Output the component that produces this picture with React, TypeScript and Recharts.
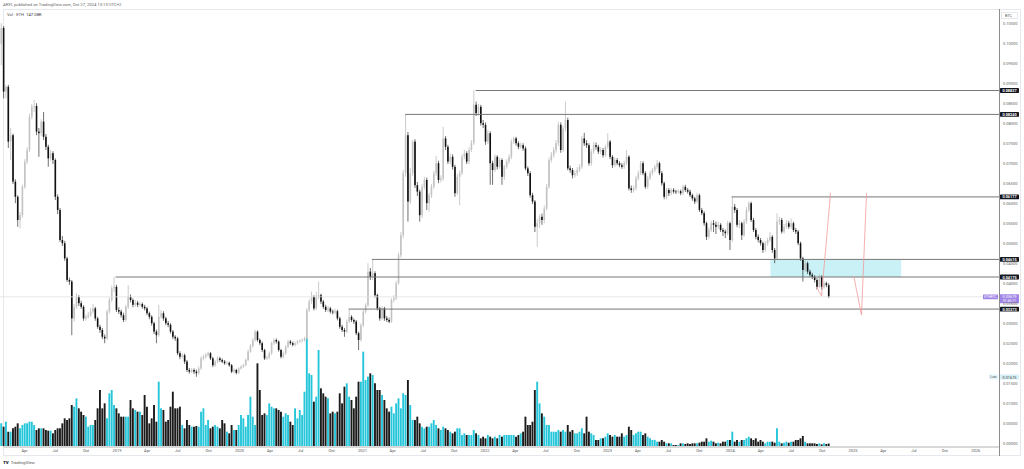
import React from 'react';
import { ComposedChart, Bar, XAxis, YAxis, ReferenceLine, ReferenceArea, Cell } from 'recharts';

const W = 1024;
const H = 469;
const DAY = 86400000;

// weekly candles, prices in units of 0.0001 BTC
const FIRST_WEEK = '2018-01-22';
const firstOpen = 1000;
const closes = [
  1040,881,893,756,772,656,618,560,572,643,
  706,735,818,843,845,781,777,806,768,743,
  714,727,710,618,585,510,502,464,410,406,
  314,343,368,352,343,314,318,322,331,339,
  314,293,285,268,264,331,360,389,393,335,
  331,322,310,343,368,360,348,353,348,350,
  343,339,327,318,302,281,272,318,327,314,
  302,298,281,268,264,227,218,222,206,185,
  181,185,181,177,189,214,218,222,227,214,
  197,206,214,210,206,202,203,197,181,185,
  178,189,193,197,210,231,
  245,260,281,260,252,235,214,216,227,252,
  260,256,235,218,227,243,256,252,248,252,
  256,258,260,264,335,356,368,339,368,372,
  356,343,335,339,331,329,332,314,293,285,
  281,306,318,310,306,277,260,297,331,347,
  431,418,427,372,339,314,339,314,310,306,
  360,364,402,472,522,677,772,606,677,756,
  647,631,572,643,660,602,622,643,677,702,
  660,664,764,743,706,718,693,627,668,677,
  718,727,706,735,752,848,827,843,802,798,
  756,777,
  702,685,718,693,710,668,693,706,718,756,
  764,752,743,747,739,689,677,622,606,543,
  552,568,560,589,643,710,722,735,752,798,
  735,789,810,689,685,672,677,685,693,764,
  752,747,702,731,747,743,731,735,722,743,
  756,718,697,710,702,697,693,702,718,639,
  635,639,664,677,702,677,643,664,677,685,
  693,702,677,652,618,635,627,635,631,630,
  632,627,643,635,631,622,614,606,622,585,
  577,552,518,535,552,548,543,548,535,531,
  527,552,
  510,593,585,548,552,522,556,585,602,560,
  535,518,510,502,485,502,510,518,485,464,
  556,560,531,543,552,543,552,535,531,502,
  464,435,452,431,423,418,410,393,418,393,
  402,397,368,
];
const highs = [
  1052,1045,897,898,790,776,662,622,580,648,
  712,742,826,850,860,852,790,812,830,775,
  748,735,732,714,624,590,520,508,468,416,
  410,350,377,372,358,347,324,330,340,350,
  343,318,298,290,274,336,366,396,418,398,
  342,336,328,348,397,374,364,360,358,356,
  354,348,343,331,322,306,286,348,335,332,
  318,308,302,285,272,268,232,228,226,210,
  190,190,189,186,194,219,224,228,231,230,
  218,210,219,218,214,210,207,206,200,189,
  188,192,197,201,214,236,
  250,265,285,284,264,256,238,221,231,256,
  264,264,259,238,231,247,260,260,256,256,
  260,262,264,268,340,362,381,372,381,406,
  376,360,348,345,343,336,338,336,318,298,
  290,311,338,322,314,310,281,302,336,352,
  452,440,462,432,376,343,345,343,320,316,
  364,372,408,478,530,685,824,780,690,760,
  762,655,636,650,668,666,628,650,683,720,
  708,672,793,770,748,726,724,698,675,684,
  724,736,732,742,760,884,856,850,848,810,
  804,785,
  782,708,724,722,716,714,698,712,724,762,
  768,768,757,753,752,744,694,682,628,610,
  562,574,576,596,650,716,730,742,760,806,
  804,796,856,816,696,690,684,692,700,770,
  778,760,752,738,755,754,748,742,740,748,
  777,760,722,716,715,707,702,708,735,722,
  646,646,670,683,708,707,682,670,682,690,
  698,710,706,682,656,640,640,640,640,636,
  637,636,648,648,640,636,626,618,628,626,
  590,582,556,542,558,560,556,556,552,540,
  536,558,
  556,618,600,590,560,556,562,592,606,606,
  565,540,524,515,506,508,516,530,522,490,
  577,568,565,550,560,558,564,556,540,535,
  506,468,458,456,436,428,422,415,424,422,
  408,406,402,
];
const lows = [
  947,864,864,740,710,650,602,543,539,566,
  638,700,730,812,830,772,718,770,760,735,
  693,708,700,610,575,505,495,458,405,398,
  272,306,338,345,338,308,308,314,318,326,
  308,288,278,262,252,260,326,355,380,330,
  325,316,305,306,338,354,342,343,342,343,
  338,334,322,312,296,275,252,268,312,308,
  297,292,276,262,258,222,212,214,200,180,
  176,177,175,168,173,185,209,213,218,210,
  192,193,202,205,202,198,198,193,177,177,
  174,175,186,190,194,207,
  228,241,256,256,247,230,210,210,212,223,
  248,251,231,214,214,223,239,248,244,244,
  248,252,254,256,260,330,350,334,335,362,
  350,338,330,330,326,324,324,309,288,280,
  268,277,302,305,300,272,235,256,292,326,
  343,410,410,366,334,308,310,308,305,302,
  303,354,360,398,466,515,668,556,600,670,
  640,620,556,565,636,585,581,615,638,670,
  652,654,658,735,700,700,686,618,622,597,
  672,712,700,700,730,748,820,820,796,790,
  748,750,
  648,648,680,686,688,648,660,688,700,712,
  750,746,737,738,733,684,670,616,600,530,
  493,540,548,552,584,638,704,716,728,745,
  728,730,782,684,678,664,666,670,680,688,
  745,740,696,696,725,736,725,724,716,718,
  738,712,690,692,697,692,688,688,697,634,
  628,628,634,659,672,672,638,638,660,672,
  680,688,672,646,612,612,620,622,626,625,
  626,622,622,630,626,617,608,600,602,580,
  572,546,510,512,530,530,525,538,530,520,
  515,522,
  485,505,578,542,540,510,518,550,580,555,
  530,512,504,496,478,480,496,505,478,452,
  460,548,526,526,538,538,538,530,525,497,
  458,406,430,425,418,412,404,386,390,386,
  388,392,365,
];
// weekly volume, thousand ETH
const volumes = [
  1360,1160,1460,860,860,1060,1160,1360,1060,1260,
  1360,1360,1460,1460,1260,960,1060,1060,1060,960,
  920,920,760,960,1060,1060,1360,1660,1560,1660,
  2460,2360,2860,2260,2060,1860,1760,1160,1260,1260,
  1560,2260,3360,2260,2560,1660,3160,3360,2460,2260,
  1960,1760,1760,1760,1760,2760,2260,2160,2060,2060,
  1860,3060,2360,1360,1660,2460,1460,3860,2260,2160,
  1460,1560,2360,3260,2260,2260,2360,1260,1060,1560,
  1260,1160,1160,1200,1160,2060,2260,1260,1560,1060,
  1160,1260,1160,1060,1560,1360,860,760,1260,960,
  960,1260,1860,1660,1160,1860,
  2960,1760,1260,4960,3360,1860,1960,1860,2560,2360,
  2260,2260,2160,2060,1760,1960,1860,1460,1260,2260,
  1660,2160,1860,3260,6460,4360,4260,2660,2960,5760,
  3460,3160,2960,2860,1960,2060,1960,2060,3160,2560,
  3560,3760,2960,2760,2260,2960,3860,3860,5660,3960,
  4160,4360,4260,3760,3360,3360,3060,2760,2260,2060,
  2360,1960,2560,2860,2260,3160,3060,3960,2460,1560,
  1560,1760,1360,1160,1060,1160,1160,1360,1560,1260,
  1060,960,1160,1060,960,860,760,860,1060,1060,
  660,760,660,660,660,960,760,660,460,560,
  460,660,
  560,460,560,460,660,560,660,660,660,660,
  660,560,660,760,860,1760,1260,1260,1460,3360,
  3860,2560,1960,1760,1260,1260,860,860,860,960,
  860,960,860,1260,860,960,760,760,860,1060,
  760,1760,860,760,660,360,360,460,460,560,
  760,660,560,660,560,560,760,560,660,1160,
  960,660,760,860,860,660,760,560,460,360,
  360,260,260,360,260,160,160,160,60,60,
  60,160,160,120,160,120,160,160,160,200,
  260,260,460,260,320,260,160,200,160,260,
  260,360,
  360,860,260,360,260,360,360,460,560,460,
  360,460,260,360,260,160,260,260,260,200,
  1060,260,160,200,260,200,260,260,360,360,
  460,600,260,160,160,160,160,120,160,100,
  160,120,147.08,
];

const priceTicks = [
  0, 0.005, 0.01, 0.015, 0.02, 0.025, 0.03, 0.035, 0.04, 0.045, 0.05,
  0.055, 0.06, 0.065, 0.07, 0.075, 0.08, 0.085, 0.09, 0.095, 0.1, 0.105,
];
const timeTicks = [
  '2018-04-01', '2018-07-01', '2018-10-01', '2019-01-01', '2019-04-01', '2019-07-01', '2019-10-01',
  '2020-01-01', '2020-04-01', '2020-07-01', '2020-10-01', '2021-01-01', '2021-04-01', '2021-07-01',
  '2021-10-01', '2022-01-01', '2022-04-01', '2022-07-01', '2022-10-01', '2023-01-01', '2023-04-01',
  '2023-07-01', '2023-10-01', '2024-01-01', '2024-04-01', '2024-07-01', '2024-10-01', '2025-01-01',
  '2025-04-01', '2025-07-01', '2025-10-01', '2026-01-01',
];
const MONTHS = ['Jan', 'Feb', 'Mar', 'Apr', 'May', 'Jun', 'Jul', 'Aug', 'Sep', 'Oct', 'Nov', 'Dec'];

// drawings
const levels = [
  { price: 0.08837, from: '2021-12-04' },
  { price: 0.0824, from: '2021-05-08' },
  { price: 0.06177, from: '2024-01-05' },
  { price: 0.04615, from: '2021-01-29' },
  { price: 0.04175, from: '2018-12-28' },
  { price: 0.03373, from: '2020-11-21' },
];
const zone = { from: '2024-04-30', to: '2025-05-24', top: 0.04615, bottom: 0.04175 };
const pathA = [
  { d: '2024-09-14', p: 0.0393 },
  { d: '2024-09-29', p: 0.037 },
  { d: '2024-10-26', p: 0.0628 },
];
const pathB = [
  { d: '2025-01-03', p: 0.042 },
  { d: '2025-01-26', p: 0.03225 },
  { d: '2025-02-10', p: 0.0627 },
];
const lastPrice = 0.03679;
const lowPrice = 0.01675;

const X0 = Date.parse('2018-01-17T17:00:00Z');
const X1 = Date.parse('2026-03-11T12:00:00Z');
const t0 = Date.parse(FIRST_WEEK + 'T00:00:00Z');

const rows = closes.map((c, i) => {
  const o = i === 0 ? firstOpen : closes[i - 1];
  return {
    t: t0 + i * 7 * DAY,
    o: o / 1e4,
    c: c / 1e4,
    h: highs[i] / 1e4,
    l: lows[i] / 1e4,
    range: [lows[i] / 1e4, highs[i] / 1e4],
    v: volumes[i],
    up: c >= o,
  };
});

const UP_BODY = '#c3c3c3';
const UP_WICK = '#a8a8a8';
const DOWN = '#111111';
const VOL_UP = '#26C6DA';
const VOL_DOWN = '#1b1b1b';
const LINE = '#777777';
const RED = '#f29a9a';

const Candle = (props: any) => {
  const { x, y, width, height, payload } = props;
  if (!payload || x == null) return null;
  const { o, c, h, l } = payload;
  const top = Math.min(y, y + height);
  const bot = Math.max(y, y + height);
  const span = h - l;
  const k = span > 0 ? (bot - top) / span : 0;
  const cx = x + width / 2;
  const yOf = (v: number) => top + (h - v) * k;
  const up = c >= o;
  const bTop = yOf(Math.max(o, c));
  const bBot = yOf(Math.min(o, c));
  return (
    <g>
      <line x1={cx} x2={cx} y1={top} y2={bot} stroke={up ? UP_WICK : DOWN} strokeWidth={0.6} />
      <rect x={cx - 0.8} y={bTop} width={1.6} height={Math.max(0.6, bBot - bTop)} fill={up ? UP_BODY : DOWN} />
    </g>
  );
};

const PriceTag = (props: any) => {
  const vb = props.viewBox || {};
  const xr = (vb.x || 0) + (vb.width || 0);
  const y = vb.y || 0;
  return (
    <g>
      <rect x={xr + 1} y={y - 2.4} width={19} height={4.8} rx={0.6} fill="#131722" />
      <text x={xr + 10.5} y={y} textAnchor="middle" dominantBaseline="central" fontSize={3.8} fontWeight={700} fill="#ffffff">
        {props.text}
      </text>
    </g>
  );
};

const LastTag = (props: any) => {
  const vb = props.viewBox || {};
  const xr = (vb.x || 0) + (vb.width || 0);
  const y = vb.y || 0;
  return (
    <g>
      <rect x={xr - 16} y={y - 2.4} width={15} height={4.8} rx={0.6} fill="#a083e6" />
      <text x={xr - 8.5} y={y} textAnchor="middle" dominantBaseline="central" fontSize={3.4} fill="#ffffff">ETHBTC</text>
      <rect x={xr + 1} y={y - 2.6} width={19} height={9} rx={0.6} fill="#a083e6" />
      <text x={xr + 10.5} y={y} textAnchor="middle" dominantBaseline="central" fontSize={3.8} fill="#ffffff">{props.text}</text>
      <text x={xr + 10.5} y={y + 3.8} textAnchor="middle" dominantBaseline="central" fontSize={3.4} fill="#ffffff">01:46:11</text>
    </g>
  );
};

const LowTag = (props: any) => {
  const vb = props.viewBox || {};
  const xr = (vb.x || 0) + (vb.width || 0);
  const y = vb.y || 0;
  return (
    <g>
      <rect x={xr - 10} y={y - 2.4} width={9} height={4.8} rx={0.6} fill="#e3f6fa" />
      <text x={xr - 5.5} y={y} textAnchor="middle" dominantBaseline="central" fontSize={3.4} fill="#555">Low</text>
      <rect x={xr + 1} y={y - 2.4} width={19} height={4.8} rx={0.6} fill="#d5f1f7" />
      <text x={xr + 10.5} y={y} textAnchor="middle" dominantBaseline="central" fontSize={3.8} fill="#444">{props.text}</text>
    </g>
  );
};

const TimeTick = (props: any) => {
  const { x, payload } = props;
  return (
    <text x={x} y={452.3} textAnchor="middle" fontSize={4} fill="#555">
      {fmtTime(payload.value)}
    </text>
  );
};

const segs = (path: { d: string; p: number }[]) =>
  path.slice(1).map((pt, i) => [
    { x: Date.parse(path[i].d), y: path[i].p },
    { x: Date.parse(pt.d), y: pt.p },
  ]);

const fmtTime = (v: number) => {
  const d = new Date(v);
  const m = d.getUTCMonth();
  return m === 0 ? String(d.getUTCFullYear()) : MONTHS[m];
};

const txt: React.CSSProperties = { position: 'absolute', whiteSpace: 'nowrap', lineHeight: 1 };

export default function App() {
  return (
    <div
      style={{
        position: 'absolute', left: 0, top: 0, width: W, height: H, background: '#ffffff',
        fontFamily: 'Roboto, "Liberation Sans", Arial, sans-serif', overflow: 'hidden',
      }}
    >
      {/* frame */}
      <div style={{ position: 'absolute', left: 3, top: 9, width: 1018, height: 447, border: '1px solid #e6e8ee', boxSizing: 'border-box' }} />
      <div style={{ position: 'absolute', left: 3, top: 446, width: 996, height: 1.5, background: '#d9d9d9' }} />
      <div style={{ position: 'absolute', left: 999, top: 9, width: 1, height: 447, background: '#8c8c8c' }} />

      <div style={{ position: 'absolute', left: 0, top: 0 }}>
        <ComposedChart width={W} height={H} data={rows} margin={{ top: 10, right: 0, left: 0, bottom: 0 }}>
          <XAxis
            xAxisId="px"
            type="number"
            dataKey="t"
            domain={[X0, X1]}
            allowDataOverflow
            ticks={timeTicks.map((d) => Date.parse(d))}
            interval={0}
            height={23}
            axisLine={false}
            tickLine={false}
            tick={<TimeTick />}
          />
          <XAxis xAxisId="vx" type="number" dataKey="t" domain={[X0, X1]} allowDataOverflow hide />
          <YAxis
            yAxisId="p"
            orientation="right"
            type="number"
            width={25}
            domain={[-0.0005, 0.1085]}
            allowDataOverflow
            ticks={priceTicks}
            interval={0}
            tickFormatter={(v: number) => v.toFixed(5)}
            axisLine={false}
            tickLine={false}
            tickSize={0}
            tickMargin={4}
            tick={{ fontSize: 4, fill: '#666' }}
          />
          <YAxis yAxisId="v" type="number" domain={[0, 26160]} allowDataOverflow hide />

          <Bar xAxisId="vx" yAxisId="v" dataKey="v" barSize={1.9} isAnimationActive={false}>
            {rows.map((r, i) => (
              <Cell key={i} fill={r.up ? VOL_UP : VOL_DOWN} />
            ))}
          </Bar>

          <ReferenceLine xAxisId="px" yAxisId="p" y={lastPrice} stroke="#e2e2e2" strokeWidth={0.8} label={<LastTag text={lastPrice.toFixed(5)} />} />
          <ReferenceLine xAxisId="px" yAxisId="p" y={lowPrice} stroke="none" strokeOpacity={0} label={<LowTag text={lowPrice.toFixed(5)} />} />

          {levels.map((lv) => (
            <ReferenceLine
              key={lv.price}
              xAxisId="px"
              yAxisId="p"
              segment={[{ x: Date.parse(lv.from), y: lv.price }, { x: X1, y: lv.price }]}
              stroke={LINE}
              strokeWidth={1}
              label={<PriceTag text={lv.price.toFixed(5)} />}
            />
          ))}

          <Bar xAxisId="px" yAxisId="p" dataKey="range" barSize={2} shape={<Candle />} isAnimationActive={false} />

          <ReferenceArea
            xAxisId="px"
            yAxisId="p"
            x1={Date.parse(zone.from)}
            x2={Date.parse(zone.to)}
            y1={zone.bottom}
            y2={zone.top}
            fill={VOL_UP}
            fillOpacity={0.25}
            stroke="none"
          />

          {[...segs(pathA), ...segs(pathB)].map((s, i) => (
            <ReferenceLine key={'r' + i} xAxisId="px" yAxisId="p" segment={s} stroke={RED} strokeWidth={0.8} ifOverflow="visible" />
          ))}
        </ComposedChart>
      </div>

      {/* header & labels */}
      <div style={{ ...txt, left: 3, top: 3, fontSize: 4.2, color: '#666' }}>
        ARYL published on TradingView.com, Oct 27, 2024 13:13 UTC+2
      </div>
      <div style={{ ...txt, left: 7, top: 13, fontSize: 4.2, color: '#555' }}>
        Vol · ETH&nbsp;&nbsp;<span style={{ color: '#333' }}>147.08K</span>
      </div>
      <div style={{ position: 'absolute', left: 1001, top: 12, width: 17, height: 7, border: '1px solid #e6e8ee', boxSizing: 'border-box' }} />
      <div style={{ ...txt, left: 1005, top: 13.6, fontSize: 3.8, color: '#555' }}>BTC</div>
      <div style={{ ...txt, left: 3, top: 460.5, fontSize: 4.4, color: '#444' }}>
        <span style={{ fontWeight: 900, color: '#131722' }}>TV</span>
        <span style={{ marginLeft: 2, color: '#555' }}>TradingView</span>
      </div>
    </div>
  );
}
